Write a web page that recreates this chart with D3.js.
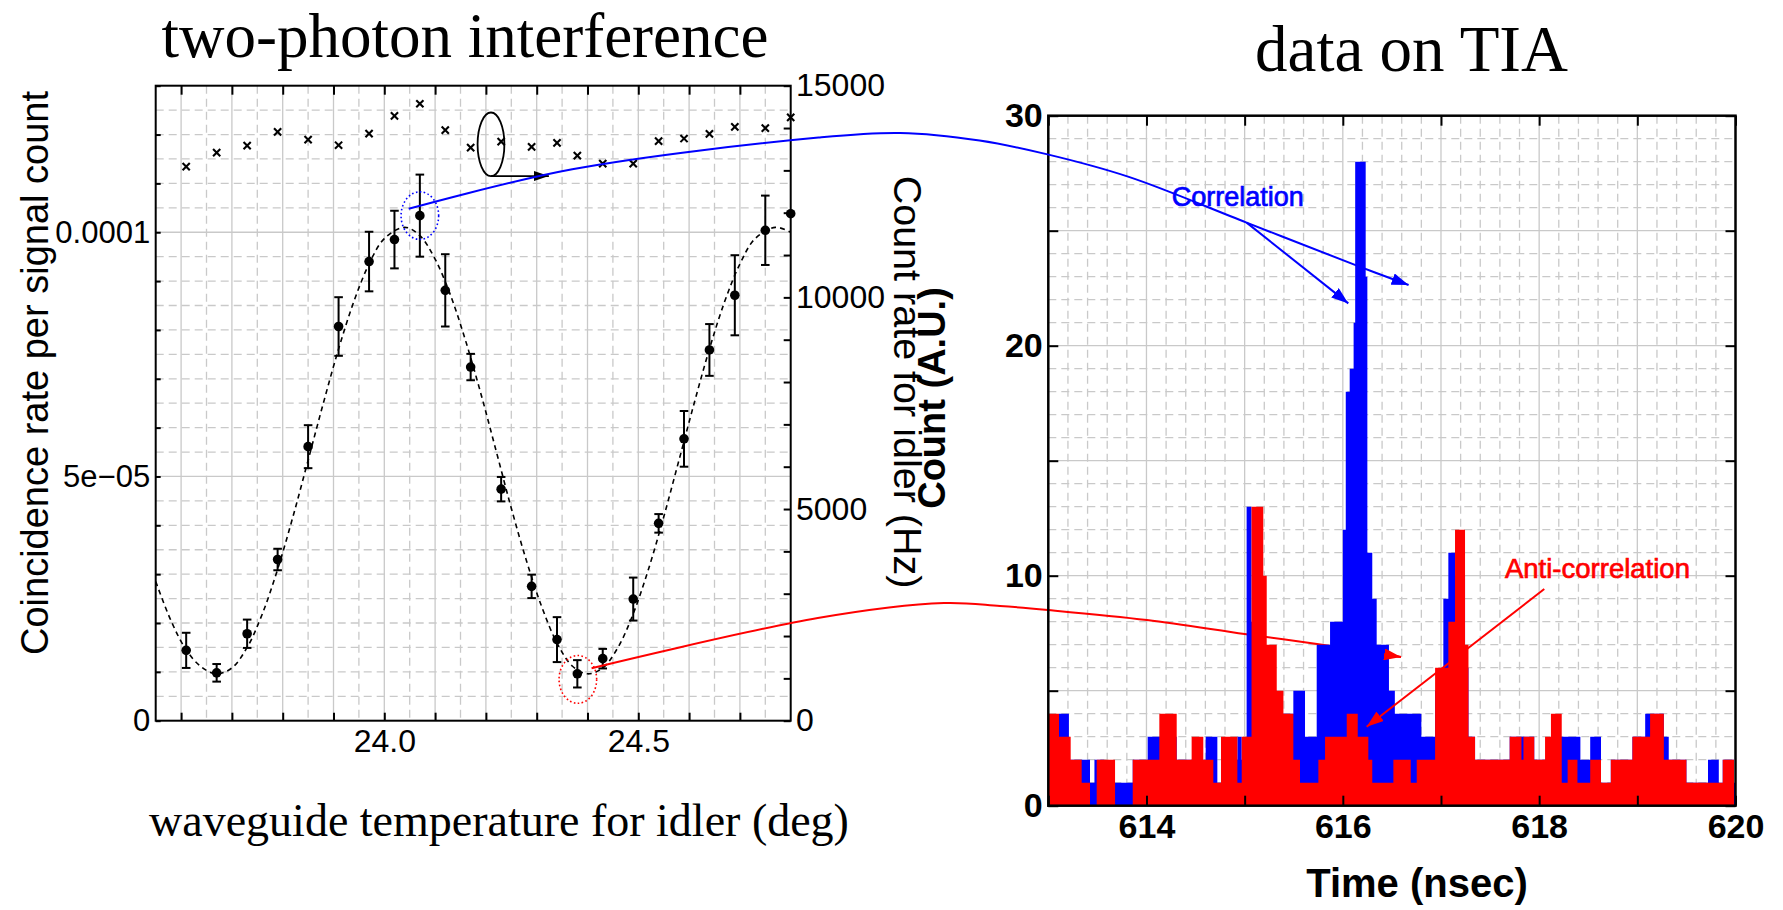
<!DOCTYPE html>
<html><head><meta charset="utf-8">
<script src="https://cdn.jsdelivr.net/npm/d3@7"></script>
<style>body{margin:0;background:#fff}svg{display:block}</style>
</head><body>
<svg id="c" width="1783" height="910"></svg>
<script>
// ---------------- DATA ----------------
// Left panel: two-photon interference
const tempDeg   = [23.61,23.67,23.73,23.79,23.85,23.91,23.97,24.02,24.07,24.12,24.17,24.23,24.29,24.34,24.38,24.43,24.49,24.54,24.59,24.64,24.69,24.75,24.80];
const coincRate = [1.44,0.98,1.78,3.30,5.61,8.07,9.40,9.85,10.34,8.81,7.24,4.74,2.75,1.66,0.96,1.27,2.49,4.04,5.77,7.59,8.71,10.04,10.38]; // x 1e-5
const coincErr  = [0.36,0.18,0.29,0.22,0.44,0.60,0.61,0.59,0.84,0.74,0.27,0.25,0.24,0.46,0.28,0.20,0.44,0.19,0.57,0.53,0.82,0.71,0]; // x 1e-5
const idlerRate = [13088,13420,13586,13910,13728,13594,13870,14289,14574,13949,13539,13681,13555,13649,13349,13160,13160,13689,13752,13863,14028,13997,14250]; // Hz
// dashed fit curve
const fitDeg  = [23.55,23.58,23.61,23.64,23.67,23.70,23.73,23.76,23.79,23.82,23.85,23.88,23.91,23.94,23.97,24.00,24.04,24.07,24.10,24.13,24.16,24.19,24.22,24.25,24.28,24.31,24.34,24.37,24.40,24.43,24.46,24.49,24.52,24.55,24.58,24.61,24.64,24.67,24.70,24.73,24.77,24.80];
const fitRate = [2.85,2.05,1.45,1.10,0.96,1.08,1.50,2.19,3.10,4.17,5.33,6.50,7.61,8.58,9.35,9.87,10.10,9.93,9.45,8.72,7.78,6.70,5.53,4.35,3.27,2.33,1.59,1.12,0.96,1.08,1.50,2.19,3.10,4.17,5.33,6.50,7.61,8.58,9.35,9.87,10.10,10.0];
const tempDomain = [23.55, 24.80];
const coincDomain = [0, 1.3e-4];
const idlerDomain = [0, 15000];
const tempTickVals = [24.0, 24.5];
const tempTickLabels = ["24.0", "24.5"];
const coincTickVals = [0, 5e-5, 1e-4];
const coincTickLabels = ["0", "5e\u221205", "0.0001"];
const idlerTickVals = [0, 5000, 10000, 15000];
const idlerTickLabels = ["0", "5000", "10000", "15000"];

// Right panel: data on TIA (step histograms: bin start time [ns], count)
const blueStart = [613.0,613.109,613.21,613.34,613.425,613.47,613.571,613.86,614.012,614.131,614.308,614.46,614.603,614.722,614.759,614.926,614.97,615.02,615.07,615.19,615.327,615.496,615.615,615.734,615.87,616.0,616.03,616.07,616.11,616.126,616.233,616.25,616.3,616.345,616.47,616.53,616.8,616.94,617.024,617.075,617.143,617.245,617.28,617.347,617.7,617.84,617.95,618.12,618.23,618.42,618.52,618.63,618.73,618.95,619.08,619.27,619.32,619.5,619.72,619.83,619.87,619.985];
const blueCount = [2,4,2,2,1,2,1,2,3,3,2,2,3,1,2,3,2,13,8,5,4,5,3,7,8,12,18,19,21,28,23,11,9,7,5,4,3,5,9,11,10,6,3,2,3,3,2,3,3,2,3,1,2,3,4,3,2,1,2,1,2,1];
const redStart = [613.0,613.109,613.228,613.34,613.425,613.493,613.68,613.86,614.131,614.308,614.46,614.579,614.681,614.759,614.926,614.97,615.07,615.19,615.225,615.327,615.395,615.496,615.564,615.751,615.819,616.04,616.152,616.26,616.3,616.515,616.692,616.753,616.94,617.075,617.143,617.245,617.28,617.347,617.7,617.82,617.84,617.95,618.06,618.12,618.23,618.29,618.39,618.52,618.63,618.73,618.95,619.13,619.27,619.5,619.87,619.985];
const redCount = [4,3,2,1,0,2,0,2,4,2,3,2,1,3,1,3,13,10,7,5,4,2,1,2,3,4,3,2,1,2,1,2,6,8,12,7,3,2,3,2,3,2,3,4,1,2,1,2,1,2,3,4,2,1,2,0];
const timeDomain = [613, 620];
const countDomain = [0, 30];
const timeTickVals = [614, 616, 618, 620];
const timeTickLabels = ["614", "616", "618", "620"];
const countTickVals = [0, 10, 20, 30];
const countTickLabels = ["0", "10", "20", "30"];

// annotation anchors (left-panel data coords / right-panel data coords)
const blueLinkLeft  = [[24.048, 1.048e-4], [24.37, 1.129e-4]];
const blueLinkRight = [[610.66, 29.05], [611.49, 29.25], [612.3, 28.92], [612.97, 28.34], [613.82, 27.34], [615.02, 25.35], [616.15, 23.47], [616.67, 22.64]];
const blueBranch    = [[615.02, 25.35], [616.056, 21.84]];
const redLinkLeft   = [[24.408, 1.075e-5]];
const redLinkRight  = [[610.652, 8.161], [611.938, 8.813], [612.508, 8.683], [612.997, 8.509], [614.005, 8.074], [615.0, 7.465], [615.737, 7.03], [616.593, 6.465]];
const antiArrow     = [[618.052, 9.422], [616.243, 3.435]];
const corrLabelPos  = [614.257, 26.07];
const antiLabelPos  = [617.652, 9.887];

// ---------------- DRAW ----------------
const SANS = "'Liberation Sans', Arial, Helvetica, sans-serif";
const SERIF = "'Liberation Serif', 'Times New Roman', serif";
const svg = d3.select("#c");
svg.append("rect").attr("width",1783).attr("height",910).attr("fill","#fff");

const defs = svg.append("defs");
function marker(id, color, L, Wd){
  defs.append("marker").attr("id",id).attr("viewBox",`0 0 ${L} ${Wd}`)
    .attr("refX",L).attr("refY",Wd/2).attr("markerWidth",L).attr("markerHeight",Wd)
    .attr("markerUnits","userSpaceOnUse").attr("orient","auto")
    .append("path").attr("d",`M0,0L${L},${Wd/2}L0,${Wd}Z`).attr("fill",color);
}
marker("ahB","#0000ff",17,12);
marker("ahR","#ff0000",17,12);
marker("ahK","#000",15,10);

const xL = d3.scaleLinear().domain(tempDomain).range([155.7, 790.7]);
const yL = d3.scaleLinear().domain(coincDomain).range([720.7, 85.7]);
const yR = d3.scaleLinear().domain(idlerDomain).range([720.7, 85.7]);
const xT = d3.scaleLinear().domain(timeDomain).range([1048.3, 1735.5]);
const yC = d3.scaleLinear().domain(countDomain).range([805.7, 115.7]);

const GRID = "#c9c9c9";
function grid(g, vals, isV, s, a0, a1, dashed){
  g.selectAll(null).data(vals).enter().append("line")
    .attr("x1", d=> isV ? s(d) : a0).attr("x2", d=> isV ? s(d) : a1)
    .attr("y1", d=> isV ? a0 : s(d)).attr("y2", d=> isV ? a1 : s(d))
    .attr("stroke", GRID).attr("stroke-width", 1.3)
    .attr("stroke-dasharray", dashed ? "8,5" : null);
}
function labeler(vals, labels){
  return d => { const i = vals.findIndex(v => Math.abs(v-d) < 1e-9*Math.max(1,Math.abs(v))+1e-12); return i>=0 ? labels[i] : ""; };
}
function styleAxis(g, size, weight){
  g.attr("font-family", SANS).attr("font-size", size).attr("font-weight", weight||"normal");
  g.select(".domain").remove();
  g.selectAll(".tick line").attr("stroke","#000").attr("stroke-width",2);
  g.selectAll("text").attr("fill","#000");
}

// ===== Left panel =====
const gL = svg.append("g");
const r10 = d3.range(236, 248).map(v => v/10);
const r05 = d3.range(2365, 2480, 10).map(v => v/100);
grid(gL, r05, true, xL, 85.7, 720.7, true);
grid(gL, r10, true, xL, 85.7, 720.7, false);
const hv = d3.range(1, 26).map(k => k*5e-6);
grid(gL, hv.filter((d,i)=> i!==9 && i!==19), false, yL, 155.7, 790.7, true);
grid(gL, [5e-5, 1e-4], false, yL, 155.7, 790.7, false);

// fit curve
gL.append("path").datum(fitDeg.map((d,i)=>[d, fitRate[i]*1e-5]))
  .attr("d", d3.line().x(d=>xL(d[0])).y(d=>yL(d[1])).curve(d3.curveCatmullRom))
  .attr("fill","none").attr("stroke","#000").attr("stroke-width",1.6).attr("stroke-dasharray","5,4");

// crosses (idler count rate)
gL.selectAll(".cr").data(tempDeg).enter().append("path")
  .attr("transform",(d,i)=>`translate(${xL(d)},${yR(idlerRate[i])})`)
  .attr("d","M-3.6,-3.6L3.6,3.6M-3.6,3.6L3.6,-3.6").attr("stroke","#000").attr("stroke-width",2.1);

// error bars + points
const eb = gL.selectAll(".eb").data(tempDeg).enter().append("g");
eb.filter((d,i)=>coincErr[i]>0).each(function(d){
  const i = tempDeg.indexOf(d);
  const g = d3.select(this), x = xL(d), y1 = yL((coincRate[i]+coincErr[i])*1e-5), y0 = yL((coincRate[i]-coincErr[i])*1e-5);
  g.append("line").attr("x1",x).attr("x2",x).attr("y1",y0).attr("y2",y1).attr("stroke","#000").attr("stroke-width",2);
  g.append("line").attr("x1",x-4.3).attr("x2",x+4.3).attr("y1",y0).attr("y2",y0).attr("stroke","#000").attr("stroke-width",2);
  g.append("line").attr("x1",x-4.3).attr("x2",x+4.3).attr("y1",y1).attr("y2",y1).attr("stroke","#000").attr("stroke-width",2);
});
gL.selectAll(".pt").data(tempDeg).enter().append("circle")
  .attr("cx",d=>xL(d)).attr("cy",(d,i)=>yL(coincRate[i]*1e-5)).attr("r",4.8).attr("fill","#000");

// axes
let ax;
ax = gL.append("g").attr("transform",`translate(0,${yL(0)})`)
  .call(d3.axisBottom(xL).tickValues(r10).tickSizeInner(-8).tickSizeOuter(0).tickPadding(8.6).tickFormat(labeler(tempTickVals,tempTickLabels)));
styleAxis(ax, 32);
ax = gL.append("g").attr("transform",`translate(0,${yL.range()[1]})`)
  .call(d3.axisTop(xL).tickValues(r10).tickSizeInner(-9).tickSizeOuter(0).tickFormat(""));
styleAxis(ax, 32);
ax = gL.append("g").attr("transform",`translate(${xL.range()[0]},0)`)
  .call(d3.axisLeft(yL).tickValues(d3.range(0,14).map(k=>k*1e-5)).tickSizeInner(-5).tickSizeOuter(0).tickPadding(5.5).tickFormat(labeler(coincTickVals,coincTickLabels)));
styleAxis(ax, 31);
ax = gL.append("g").attr("transform",`translate(${xL.range()[1]},0)`)
  .call(d3.axisRight(yR).tickValues(d3.range(0,16).map(k=>k*1000)).tickSizeInner(-7).tickSizeOuter(0).tickPadding(5.3).tickFormat(labeler(idlerTickVals,idlerTickLabels)));
styleAxis(ax, 32);
gL.append("rect").attr("x",155.7).attr("y",85.7).attr("width",635).attr("height",635)
  .attr("fill","none").attr("stroke","#000").attr("stroke-width",2);

// left annotations: ellipse around crosses + arrow
gL.append("ellipse").attr("cx",xL(24.21)).attr("cy",yL(11.80e-5)).attr("rx",13.4).attr("ry",31.8)
  .attr("fill","none").attr("stroke","#000").attr("stroke-width",1.8);
gL.append("line").attr("x1",xL(24.21)).attr("y1",yL(11.15e-5)).attr("x2",xL(24.324)).attr("y2",yL(11.15e-5))
  .attr("stroke","#000").attr("stroke-width",1.8).attr("marker-end","url(#ahK)");
// dotted circles
gL.append("ellipse").attr("cx",xL(tempDeg[8])).attr("cy",yL(coincRate[8]*1e-5)).attr("rx",18.8).attr("ry",23.8)
  .attr("fill","none").attr("stroke","#0000ff").attr("stroke-width",1.6).attr("stroke-dasharray","1.6,2.4");
gL.append("ellipse").attr("cx",xL(24.381)).attr("cy",yL(0.845e-5)).attr("rx",18.8).attr("ry",23.9)
  .attr("fill","none").attr("stroke","#ff0000").attr("stroke-width",1.6).attr("stroke-dasharray","1.6,2.4");

// left labels
svg.append("text").attr("transform","translate(48,373) rotate(-90)").attr("text-anchor","middle")
  .attr("font-family",SANS).attr("font-size",38).text("Coincidence rate per signal count");
svg.append("text").attr("transform","translate(894,382) rotate(90)").attr("text-anchor","middle")
  .attr("font-family",SANS).attr("font-size",39.5).text("Count rate for idler (Hz)");
svg.append("text").attr("x",465).attr("y",57).attr("text-anchor","middle")
  .attr("font-family",SERIF).attr("font-size",63).text("two-photon interference");
svg.append("text").attr("x",499).attr("y",836).attr("text-anchor","middle")
  .attr("font-family",SERIF).attr("font-size",46).text("waveguide temperature for idler (deg)");

// ===== Right panel =====
const gR = svg.append("g");
const t1 = d3.range(614, 620);
const t02 = d3.range(1, 35).filter(k => k%5).map(k => 613 + k*0.2);
grid(gR, t02, true, xT, 115.7, 805.7, true);
grid(gR, t1, true, xT, 115.7, 805.7, false);
grid(gR, d3.range(1,30).filter(k=>k%5), false, yC, 1048.3, 1735.5, true);
grid(gR, [5,10,15,20,25], false, yC, 1048.3, 1735.5, false);

// red connector (behind bars)
const redPts = redLinkLeft.map(d=>[xL(d[0]),yL(d[1])]).concat(redLinkRight.map(d=>[xT(d[0]),yC(d[1])]));
svg.append("path").attr("d", d3.line().curve(d3.curveCatmullRom)(redPts))
  .attr("fill","none").attr("stroke","#ff0000").attr("stroke-width",2);

defs.append("clipPath").attr("id","clipR").append("rect")
  .attr("x",1048.3).attr("y",115.7).attr("width",687.2).attr("height",690);
function stepData(starts, counts){
  const d = starts.map((s,i)=>[s, counts[i]]);
  d.push([timeDomain[1], counts[counts.length-1]]);
  return d;
}
const area = d3.area().x(d=>xT(d[0])).y0(yC(0)).y1(d=>yC(d[1])).curve(d3.curveStepAfter);
const gH = svg.append("g");
gH.append("path").datum(stepData(blueStart, blueCount)).attr("d", area)
  .attr("fill","#0000ff").attr("clip-path","url(#clipR)");
gH.append("path").datum(stepData(redStart, redCount)).attr("d", area)
  .attr("fill","#ff0000").attr("clip-path","url(#clipR)");

const gRA = svg.append("g");
ax = gRA.append("g").attr("transform",`translate(0,${yC(0)})`)
  .call(d3.axisBottom(xT).tickValues(d3.range(613,621)).tickSizeInner(-10).tickSizeOuter(0).tickPadding(8.3).tickFormat(labeler(timeTickVals,timeTickLabels)));
styleAxis(ax, 34, "bold");
ax = gRA.append("g").attr("transform",`translate(0,${yC(30)})`)
  .call(d3.axisTop(xT).tickValues(d3.range(613,621)).tickSizeInner(-10).tickSizeOuter(0).tickFormat(""));
styleAxis(ax, 34, "bold");
ax = gRA.append("g").attr("transform",`translate(${xT(613)},0)`)
  .call(d3.axisLeft(yC).tickValues(d3.range(0,31,5)).tickSizeInner(-10).tickSizeOuter(0).tickPadding(5.6).tickFormat(labeler(countTickVals,countTickLabels)));
styleAxis(ax, 34, "bold");
ax = gRA.append("g").attr("transform",`translate(${xT(620)},0)`)
  .call(d3.axisRight(yC).tickValues(d3.range(0,31,5)).tickSizeInner(-10).tickSizeOuter(0).tickFormat(""));
styleAxis(ax, 34, "bold");
gRA.append("rect").attr("x",1048.3).attr("y",115.7).attr("width",687.2).attr("height",690)
  .attr("fill","none").attr("stroke","#000").attr("stroke-width",2.5);

// red arrowhead at end of connector (on top)
const rl = redPts.length;
svg.append("line").attr("x1",redPts[rl-2][0]+0.8*(redPts[rl-1][0]-redPts[rl-2][0])).attr("y1",redPts[rl-2][1]+0.8*(redPts[rl-1][1]-redPts[rl-2][1]))
  .attr("x2",redPts[rl-1][0]).attr("y2",redPts[rl-1][1]).attr("stroke","#ff0000").attr("stroke-width",2).attr("marker-end","url(#ahR)");

// blue connector
const bluePts = blueLinkLeft.map(d=>[xL(d[0]),yL(d[1])]).concat(blueLinkRight.map(d=>[xT(d[0]),yC(d[1])]));
svg.append("path").attr("d", d3.line().curve(d3.curveCatmullRom)(bluePts))
  .attr("fill","none").attr("stroke","#0000ff").attr("stroke-width",2).attr("marker-end","url(#ahB)");
svg.append("line").attr("x1",xT(blueBranch[0][0])).attr("y1",yC(blueBranch[0][1]))
  .attr("x2",xT(blueBranch[1][0])).attr("y2",yC(blueBranch[1][1]))
  .attr("stroke","#0000ff").attr("stroke-width",2).attr("marker-end","url(#ahB)");
svg.append("line").attr("x1",xT(antiArrow[0][0])).attr("y1",yC(antiArrow[0][1]))
  .attr("x2",xT(antiArrow[1][0])).attr("y2",yC(antiArrow[1][1]))
  .attr("stroke","#ff0000").attr("stroke-width",2).attr("marker-end","url(#ahR)");

svg.append("text").attr("x",xT(corrLabelPos[0])).attr("y",yC(corrLabelPos[1]))
  .attr("font-family",SANS).attr("font-size",27).attr("fill","#0000ff")
  .attr("stroke","#0000ff").attr("stroke-width",0.7).text("Correlation");
svg.append("text").attr("x",xT(antiLabelPos[0])).attr("y",yC(antiLabelPos[1]))
  .attr("font-family",SANS).attr("font-size",27.5).attr("fill","#ff0000")
  .attr("stroke","#ff0000").attr("stroke-width",0.7).text("Anti-correlation");

// right labels
svg.append("text").attr("transform","translate(944.6,398) rotate(-90)").attr("text-anchor","middle")
  .attr("font-family",SANS).attr("font-weight","bold").attr("font-size",38).text("Count (A.U.)");
svg.append("text").attr("x",1417).attr("y",897).attr("text-anchor","middle")
  .attr("font-family",SANS).attr("font-weight","bold").attr("font-size",40).text("Time (nsec)");
svg.append("text").attr("x",1411.5).attr("y",71).attr("text-anchor","middle")
  .attr("font-family",SERIF).attr("font-size",65).text("data on TIA");
</script>
</body></html>
